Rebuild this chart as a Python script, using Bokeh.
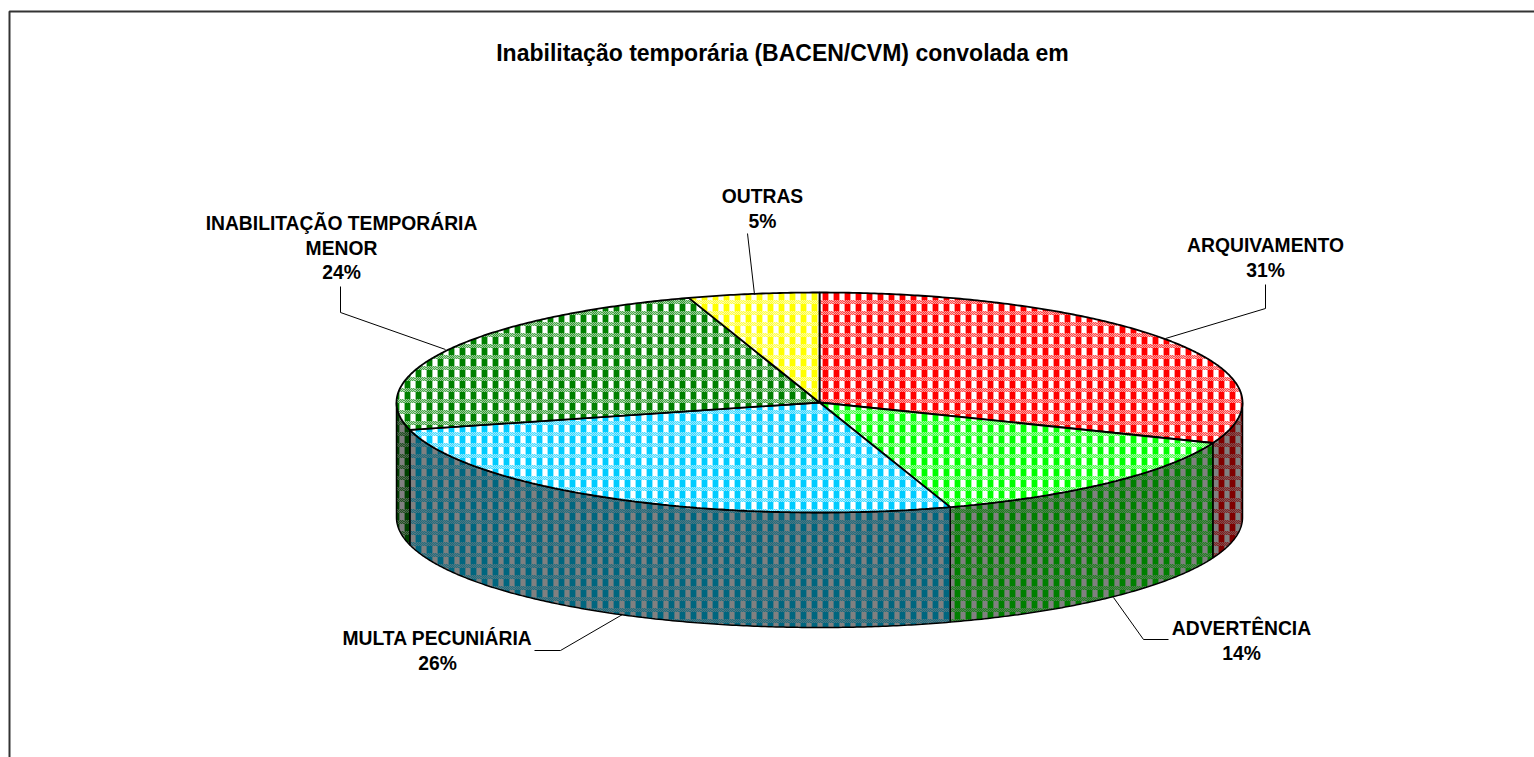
import base64, math, struct, zlib
from bokeh.core.properties import value
from bokeh.embed import file_html
from bokeh.models import ImageURLTexture, Range1d
from bokeh.plotting import figure
from bokeh.resources import INLINE

TITLE = "Inabilitação temporária (BACEN/CVM) convolada em"
categories = ["ARQUIVAMENTO", "ADVERTÊNCIA", "MULTA PECUNIÁRIA", "INABILITAÇÃO TEMPORÁRIA MENOR", "OUTRAS"]
percent = [31, 14, 26, 24, 5]
top_colors = [(255, 0, 0), (0, 255, 0), (0, 204, 255), (0, 128, 0), (255, 255, 0)]

CX, CY, RX, RY, DEPTH = 819, 402, 423, 110, 115
PHASE_X, PHASE_Y = 8, 7  # where the pattern tile begins, modulo its 11px period


def png_url(rows):
    h, w = len(rows), len(rows[0])
    raw = b"".join(b"\0" + bytes(v for px in r for v in px) for r in rows)
    def chunk(t, d):
        return struct.pack(">I", len(d)) + t + d + struct.pack(">I", zlib.crc32(t + d))
    png = b"\x89PNG\r\n\x1a\n" + chunk(b"IHDR", struct.pack(">IIBBBBB", w, h, 8, 2, 0, 0, 0)) + chunk(b"IDAT", zlib.compress(raw)) + chunk(b"IEND", b"")
    return "data:image/png;base64," + base64.b64encode(png).decode()


def mix(fg, bg, t):
    return tuple(round(f * t + b * (1 - t)) for f, b in zip(fg, bg))


def tile(fg, bg):
    rows = []
    for y in range(11):
        row = []
        fy = (y - PHASE_Y) % 11
        for x in range(11):
            fx = (x - PHASE_X) % 11
            if fy < 7:
                if 1 <= fx <= 5:
                    t = 1.0
                elif fx in (0, 6):
                    t = 0.4
                else:
                    t = 0.0
            else:
                t = 0.7 if (fx + fy) % 2 == 0 else 0.3
                if 1 <= fx <= 5:
                    t += 0.1
            row.append(mix(fg, bg, t))
        rows.append(row)
    return ImageURLTexture(url=png_url(rows))


def arc(a0, a1, dy=0, step=0.5):
    n = max(2, int(abs(a1 - a0) / step) + 1)
    xs, ys = [], []
    for i in range(n + 1):
        t = math.radians(a0 + (a1 - a0) * i / n)
        xs.append(CX + RX * math.sin(t))
        ys.append(CY - RY * math.cos(t) + dy)
    return xs, ys


p = figure(width=1534, height=757, x_range=Range1d(0, 1534), y_range=Range1d(757, 0),
           output_backend="svg", toolbar_location=None, min_border=0)
p.axis.visible = False
p.grid.visible = False
p.outline_line_color = None

# frame
p.line([9, 9, 1534], [757, 11, 11], line_color="#333333", line_width=2)

total = sum(percent)
edges = [0]
for v in percent:
    edges.append(edges[-1] + v / total * 360)

# side wall (visible between 90 and 270 degrees)
for i, c in enumerate(top_colors):
    a0, a1 = max(edges[i], 90), min(edges[i + 1], 270)
    if a1 <= a0:
        continue
    xt, yt = arc(a0, a1)
    xb, yb = arc(a1, a0, DEPTH)
    dark = tuple(v // 2 for v in c)
    tex = tile(dark, (128, 128, 128))
    p.patch(xt + xb, yt + yb, fill_color="#808080", line_color="black", line_width=1.5,
            hatch_pattern="k", hatch_extra={"k": tex})

# top face
for i, c in enumerate(top_colors):
    xs, ys = arc(edges[i], edges[i + 1])
    tex = tile(c, (255, 255, 255))
    p.patch([CX] + xs, [CY] + ys, fill_color="white", line_color="black", line_width=1.8,
            hatch_pattern="k", hatch_extra={"k": tex})

# leader lines
leaders = [
    ([1265, 1265, 1165], [284, 308, 338]),
    ([1168, 1143, 1113], [639, 639, 597]),
    ([534, 560, 622], [650, 650, 614]),
    ([340, 340, 445], [286, 312, 349]),
    ([747, 754], [233, 294]),
]
for xs, ys in leaders:
    p.line(xs, ys, line_color="black", line_width=1)

# texts
FONT = value("Liberation Sans")
p.text([782], [52], text=[TITLE], text_font=FONT, text_font_style="bold", text_font_size="23px",
       text_align="center", text_baseline="middle", text_color="black")
label_lines = [
    (1265, 245, [categories[0]]),
    (1241, 628, [categories[1]]),
    (437, 638, [categories[2]]),
    (341, 223, ["INABILITAÇÃO TEMPORÁRIA", "MENOR"]),
    (762, 196, [categories[4]]),
]
for (x, y, names), v in zip(label_lines, percent):
    rows = names + [f"{v}%"]
    p.text([x] * len(rows), [y + k * 24.5 for k in range(len(rows))], text=rows, text_font=FONT,
           text_font_style="bold", text_font_size="19.3px", text_align="center",
           text_baseline="middle", text_color="black")

open("out.html", "w").write(file_html(p, INLINE))
